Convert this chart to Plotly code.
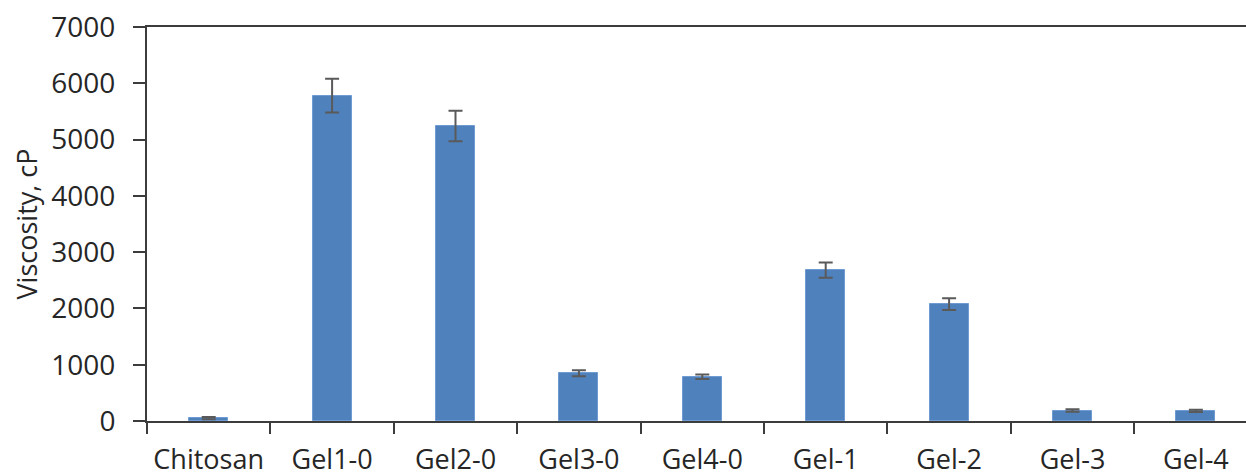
import plotly.graph_objects as go

categories = ["Chitosan", "Gel1-0", "Gel2-0", "Gel3-0", "Gel4-0", "Gel-1", "Gel-2", "Gel-3", "Gel-4"]
viscosity = [50, 5780, 5240, 850, 785, 2680, 2075, 185, 180]
error = [20, 300, 270, 53, 40, 135, 105, 22, 20]
y_ticks = [0, 1000, 2000, 3000, 4000, 5000, 6000, 7000]

FONT = "Open Sans"
AX = "#3c3c3c"

fig = go.Figure()
fig.add_trace(go.Bar(
    x=list(range(len(categories))),
    y=viscosity,
    width=0.316,
    marker=dict(color="#4F81BD", line=dict(color="#6f9bd2", width=1)),
    error_y=dict(type="data", array=error, visible=True, color="#5a5a5a", thickness=2, width=7),
))

fig.update_layout(
    width=1246, height=476,
    margin=dict(l=147, r=0, t=27, b=55),
    paper_bgcolor="white", plot_bgcolor="white",
    showlegend=False,
    font=dict(family=FONT, size=28, color="#262626"),
    bargap=0,
)
fig.update_xaxes(
    automargin=False,
    range=[-0.5, 8.406],
    tickmode="array",
    tickvals=list(range(len(categories))),
    ticktext=categories,
    showgrid=False, zeroline=False,
    showline=True, linecolor=AX, linewidth=2, mirror=True,
    ticks="", ticklabelstandoff=14,
    tickfont=dict(family=FONT, size=27, color="#262626"),
)
fig.update_xaxes(
    minor=dict(tickmode="array", tickvals=[i - 0.5 for i in range(len(categories) + 1)],
               ticks="outside", ticklen=11, tickwidth=2, tickcolor=AX, showgrid=False),
)
fig.update_yaxes(
    automargin=False,
    range=[0, 7000],
    tickmode="array", tickvals=y_ticks,
    showgrid=False, zeroline=False,
    showline=True, linecolor=AX, linewidth=2,
    ticks="outside", ticklen=12, tickwidth=2, tickcolor=AX,
    ticklabelstandoff=12,
    tickfont=dict(family=FONT, size=28, color="#262626"),
    title=dict(text="Viscosity, cP", font=dict(family=FONT, size=27, color="#262626"), standoff=6),
)
fig.write_html("out.html")
